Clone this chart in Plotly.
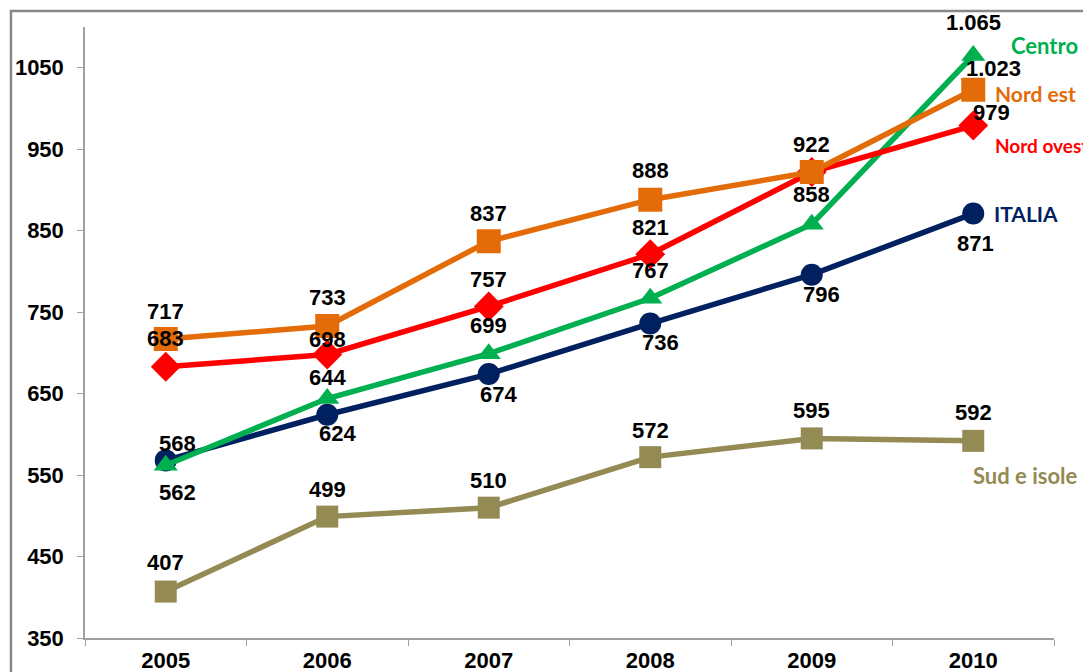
import plotly.graph_objects as go

years = ["2005", "2006", "2007", "2008", "2009", "2010"]
italia = [568, 624, 674, 736, 796, 871]
centro = [562, 644, 699, 767, 858, 1065]
nord_est = [717, 733, 837, 888, 922, 1023]
nord_ovest = [683, 698, 757, 821, 922, 979]
sud_isole = [407, 499, 510, 572, 595, 592]
y_ticks = [350, 450, 550, 650, 750, 850, 950, 1050]

def fmt(v):
    return f"{v:,}".replace(",", ".")

series = [
    dict(name="Sud e isole", vals=sud_isole, color="#948A54", symbol="square", size=22,
         ys=[29, 27, 27, 27, 28, 28], xs=[0]*6, show=[1]*6, end=(52, -35), esize=22),
    dict(name="ITALIA", vals=italia, color="#002060", symbol="circle", size=22,
         ys=[17, -19, -20, -19, -20, -30], xs=[12, 10, 10, 10, 10, 2], show=[1]*6, end=(53, 0), esize=21),
    dict(name="Centro", vals=centro, color="#00B050", symbol="triangle-up", size=21,
         ys=[-27, 21, 28, 28, 30, 33], xs=[12, 0, 0, 0, 0, 0], show=[1]*6, end=(71, 10), esize=22),
    dict(name="Nord ovest", vals=nord_ovest, color="#FF0000", symbol="diamond", size=23,
         ys=[28, 15, 27, 27, 28, 13], xs=[0, 0, 0, 0, 0, 18], show=[1, 1, 1, 1, 0, 1], end=(68, -20), esize=19),
    dict(name="Nord est", vals=nord_est, color="#E36C09", symbol="square", size=24,
         ys=[28, 28, 28, 29, 28, 21], xs=[0, 0, 0, 0, 0, 20], show=[1]*6, end=(62, -4), esize=21),
]

fig = go.Figure()
annotations = []
for s in series:
    fig.add_trace(go.Scatter(
        x=years, y=s["vals"], mode="lines+markers", name=s["name"],
        line=dict(color=s["color"], width=5.5),
        marker=dict(symbol=s["symbol"], size=s["size"], color=s["color"]),
        showlegend=False, cliponaxis=False,
    ))
for s in series:
    for i, v in enumerate(s["vals"]):
        if not s["show"][i]:
            continue
        annotations.append(dict(
            x=i, y=v, xref="x", yref="y", text=fmt(v), showarrow=False,
            xshift=s["xs"][i], yshift=s["ys"][i],
            font=dict(family="Liberation Sans, Arial", size=22, color="black", weight="bold"),
        ))
    annotations.append(dict(
        x=len(years) - 1, y=s["vals"][-1], xref="x", yref="y", text=s["name"], showarrow=False,
        xshift=s["end"][0], yshift=s["end"][1],
        font=dict(family="Lato, Open Sans", size=s["esize"], color=s["color"], weight="bold"),
    ))

fig.update_layout(
    width=1091, height=672,
    margin=dict(l=77, r=45, t=19, b=42, autoexpand=False),
    paper_bgcolor="white", plot_bgcolor="white",
    annotations=annotations,
    shapes=[dict(type="rect", xref="paper", yref="paper",
                 x0=-0.0764, x1=1.2, y0=-0.3, y1=1.026,
                 line=dict(color="#888888", width=2.5), fillcolor="rgba(0,0,0,0)", layer="below")],
)
fig.update_xaxes(
    type="category", range=[-0.5, 5.5], showgrid=False, automargin=False,
    showline=True, linecolor="#A0A0A0", linewidth=1.5,
    ticks="outside", tickson="boundaries", ticklen=6, tickcolor="#A0A0A0",
    ticklabelstandoff=2,
    tickfont=dict(family="Liberation Sans, Arial", size=22, color="black", weight="bold"),
)
fig.update_yaxes(
    range=[350, 1100], tickvals=y_ticks, ticktext=[str(t) for t in y_ticks],
    showgrid=False, zeroline=False, automargin=False,
    showline=True, linecolor="#A0A0A0", linewidth=1.5,
    ticks="outside", ticklen=6, tickcolor="#A0A0A0",
    ticklabelstandoff=9,
    tickfont=dict(family="Liberation Sans, Arial", size=22, color="black", weight="bold"),
)

fig.write_html("out.html")
